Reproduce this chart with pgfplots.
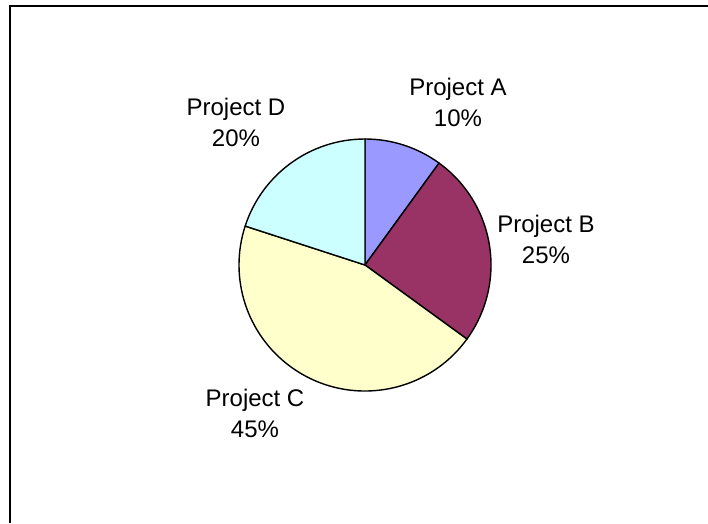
\documentclass[border=0pt]{standalone}
\usepackage{pgfplots}
\pgfplotsset{compat=1.18}
\usepackage{fontspec}
\setmainfont{Liberation Sans}
\definecolor{cA}{HTML}{9999FF}
\definecolor{cB}{HTML}{993366}
\definecolor{cC}{HTML}{FFFFCC}
\definecolor{cD}{HTML}{CCFFFF}
% slice: #1 cumulative percent before, #2 percent, #3 colour
\newcommand{\slice}[3]{%
  \filldraw[fill=#3, draw=black, line width=1.4pt, line join=round]
    (axis cs:365,258) -- ++({90-3.6*#1}:126pt)
    arc[start angle={90-3.6*#1}, delta angle={-3.6*#2}, radius=126pt] -- cycle;}
\begin{document}
\begin{tikzpicture}
\begin{axis}[width=708pt, height=523pt, scale only axis,
  xmin=0, xmax=708, ymin=0, ymax=523, hide axis, clip=false]
% values (percent): A 10, B 25, C 45, D 20
\slice{0}{10}{cA}
\slice{10}{25}{cB}
\slice{35}{45}{cC}
\slice{80}{20}{cD}
\draw[line width=2pt] (axis cs:10.3,0) -- (axis cs:10.3,517) -- (axis cs:708,517);
\tikzset{lbl/.style={anchor=base, align=center, inner sep=0pt,
  font=\fontsize{24}{31}\selectfont}}
\node[lbl] at (axis cs:458,396) {Project A\\10\%};
\node[lbl] at (axis cs:546,260) {Project B\\25\%};
\node[lbl] at (axis cs:255,86) {Project C\\45\%};
\node[lbl] at (axis cs:236,377) {Project D\\20\%};
\coordinate (ll) at (axis cs:0,0);
\coordinate (ur) at (axis cs:708,523);
\end{axis}
\pgfresetboundingbox
\path[use as bounding box] (ll) rectangle (ur);
\end{tikzpicture}
\end{document}
